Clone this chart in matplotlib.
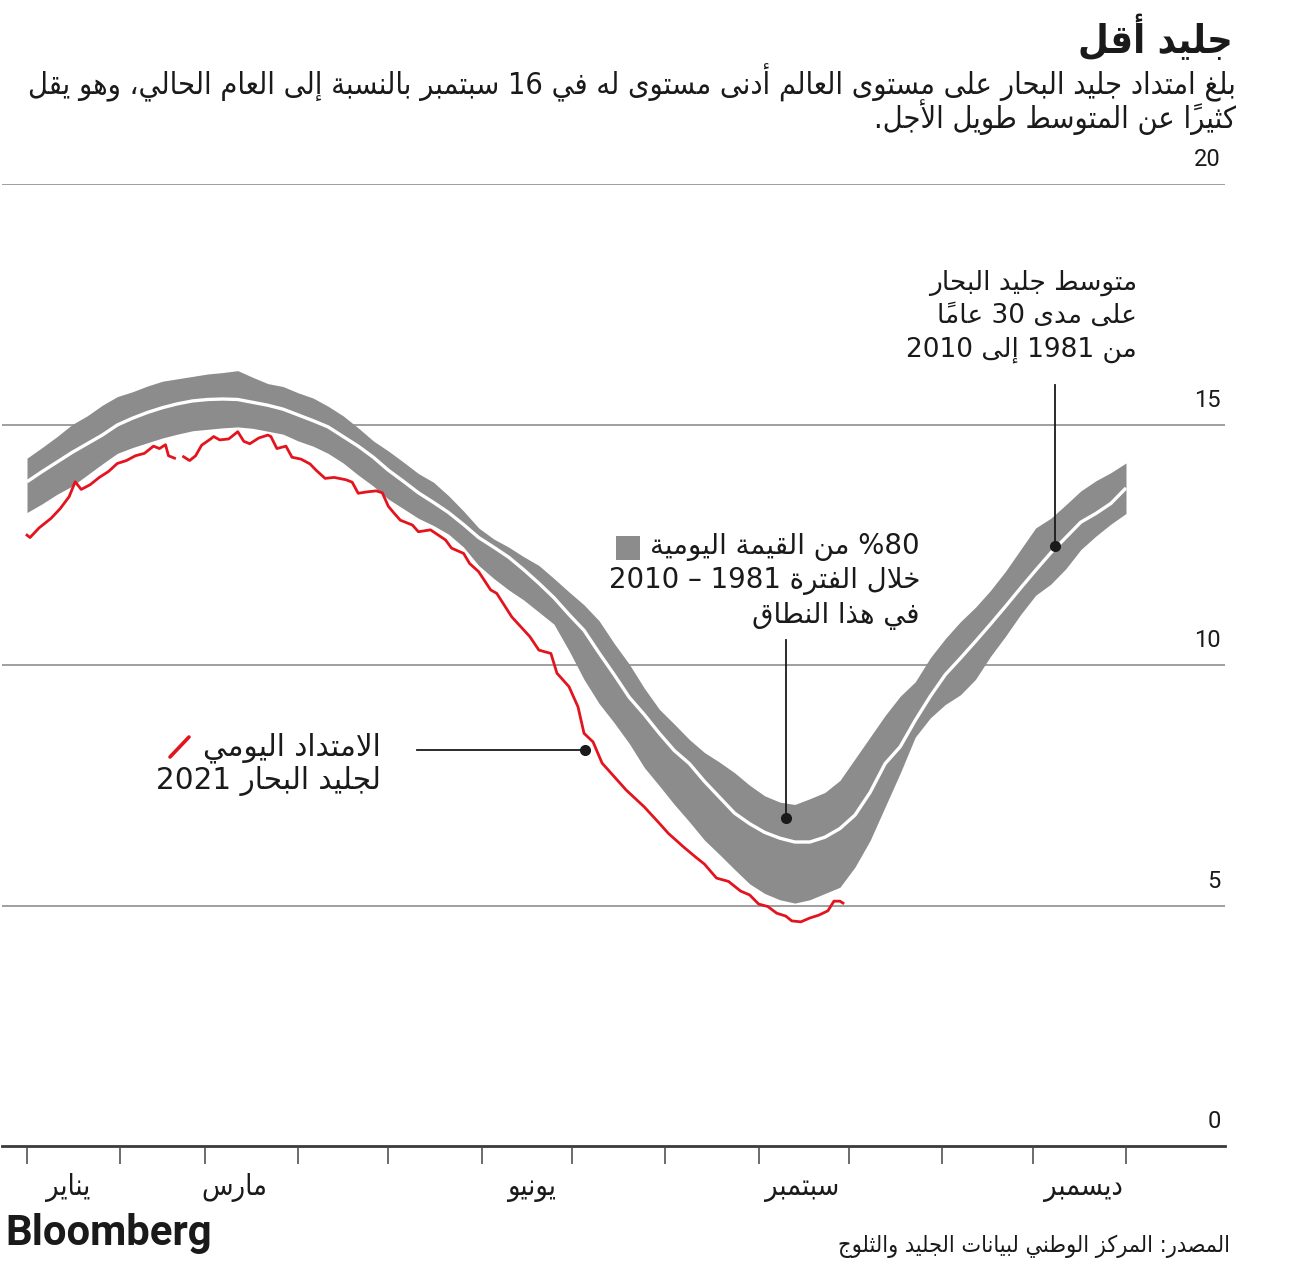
import numpy as np
import matplotlib
matplotlib.use('Agg')
import matplotlib.pyplot as plt
from matplotlib.patches import Rectangle
from matplotlib.lines import Line2D

# ---------------- data ----------------
month_starts = [0, 31, 59, 90, 120, 151, 181, 212, 243, 273, 304, 334, 365]
month_labels = ["يناير", "مارس", "يونيو", "سبتمبر", "ديسمبر"]
month_label_days = [13.6, 68.7, 167.4, 257.6, 351.0]
y_ticks = [0, 5, 10, 15, 20]

band_days = list(range(0, 366, 5))
band_upper = [14.30, 14.52, 14.75, 15.00, 15.18, 15.40, 15.58, 15.68, 15.80, 15.90,
              15.95, 16.00, 16.05, 16.08, 16.12, 15.98, 15.85, 15.79, 15.66, 15.55,
              15.38, 15.18, 14.93, 14.66, 14.45, 14.22, 13.98, 13.80, 13.52, 13.20,
              12.85, 12.62, 12.45, 12.25, 12.07, 11.80, 11.52, 11.25, 10.92, 10.45,
              10.02, 9.52, 9.08, 8.77, 8.45, 8.18, 7.98, 7.76, 7.50, 7.28,
              7.15, 7.10, 7.22, 7.35, 7.60, 8.05, 8.50, 8.95, 9.35, 9.65,
              10.15, 10.55, 10.90, 11.20, 11.55, 11.95, 12.40, 12.85, 13.05, 13.33,
              13.62, 13.83, 14.00, 14.20]
band_lower = [13.17, 13.35, 13.55, 13.72, 13.95, 14.18, 14.40, 14.52, 14.62, 14.72,
              14.80, 14.87, 14.90, 14.93, 14.95, 14.92, 14.86, 14.80, 14.66, 14.55,
              14.40, 14.20, 13.95, 13.72, 13.45, 13.25, 13.05, 12.90, 12.72, 12.45,
              12.07, 11.80, 11.56, 11.35, 11.10, 10.85, 10.30, 9.70, 9.20, 8.80,
              8.37, 7.87, 7.49, 7.10, 6.74, 6.36, 6.06, 5.75, 5.45, 5.25,
              5.12, 5.05, 5.12, 5.25, 5.38, 5.80, 6.35, 7.05, 7.75, 8.50,
              8.90, 9.18, 9.38, 9.70, 10.18, 10.60, 11.05, 11.45, 11.68, 12.00,
              12.40, 12.68, 12.93, 13.15]
mean_vals = [13.81, 14.02, 14.22, 14.42, 14.60, 14.78, 14.99, 15.13, 15.25, 15.35,
             15.43, 15.49, 15.52, 15.53, 15.52, 15.46, 15.40, 15.32, 15.20, 15.08,
             14.95, 14.75, 14.55, 14.32, 14.05, 13.82, 13.58, 13.38, 13.17, 12.92,
             12.65, 12.45, 12.24, 11.98, 11.70, 11.40, 11.05, 10.72, 10.25, 9.80,
             9.33, 8.97, 8.58, 8.22, 7.95, 7.58, 7.25, 6.92, 6.70, 6.52,
             6.40, 6.32, 6.32, 6.42, 6.60, 6.88, 7.35, 7.95, 8.30, 8.85,
             9.35, 9.80, 10.14, 10.49, 10.85, 11.22, 11.60, 11.97, 12.33, 12.65,
             12.97, 13.15, 13.36, 13.68]

red_days = [0, 1, 4, 8, 11, 14, 16, 18, 21, 24, 27, 30, 33, 36, 39, 42, 44, 46, 47, 49,
            50, 52, 54, 56, 58, 61, 62, 64, 67, 70, 72, 74, 77, 80, 81, 83, 86, 88, 91, 94,
            96, 99, 102, 106, 108, 110, 113, 116, 118, 120, 122, 124, 128, 130, 134, 139,
            141, 145, 147, 150, 154, 156, 161, 167, 170, 174, 176, 180, 183, 185, 188, 191,
            195, 199, 205, 210, 213, 218, 222, 225, 229, 233, 237, 240, 243, 246, 249, 252,
            254, 257, 260, 263, 266, 268, 270, 271]
red_vals = [12.70, 12.65, 12.85, 13.05, 13.25, 13.50, 13.81, 13.65, 13.75, 13.90, 14.02,
            14.19, 14.25, 14.35, 14.40, 14.55, 14.50, 14.58, 14.35, 14.30,
            np.nan, 14.33, 14.25, 14.35, 14.57, 14.70, 14.75, 14.68, 14.70, 14.85, 14.65,
            14.60, 14.72, 14.78, 14.75, 14.50, 14.55, 14.32, 14.28, 14.18,
            14.05, 13.88, 13.90, 13.85, 13.80, 13.57, 13.60, 13.62, 13.58, 13.30, 13.15,
            13.01, 12.91, 12.77, 12.81, 12.60,
            12.43, 12.32, 12.11, 11.94, 11.56, 11.49, 11.00, 10.59, 10.31, 10.24, 9.83,
            9.55, 9.13, 8.58, 8.40, 7.96,
            7.68, 7.40, 7.05, 6.71, 6.50, 6.22, 6.01, 5.86, 5.57, 5.50, 5.30, 5.22,
            5.03, 4.98, 4.84, 4.78,
            4.68, 4.66, 4.74, 4.80, 4.89, 5.09, 5.09, 5.05]

title = "جليد أقل"
subtitle = ["بلغ امتداد جليد البحار على مستوى العالم أدنى مستوى له في 16 سبتمبر بالنسبة إلى العام الحالي، وهو يقل",
            "كثيراً عن المتوسط طويل الأجل."]
mean_note = ["متوسط جليد البحار", "على مدى 30 عاماً", "من 1981 إلى 2010"]
band_note = ["80% من القيمة اليومية", "خلال الفترة 1981 – 2010", "في هذا النطاق"]
red_note = ["الامتداد اليومي", "لجليد البحار 2021"]
source = "المصدر: المركز الوطني لبيانات الجليد والثلوج"

# ---------------- Arabic shaping (presentation forms + visual order) ----------------
RIGHT_JOIN = set('\u0622\u0623\u0624\u0625\u0627\u0629\u062F\u0630\u0631\u0632\u0648\u0649')
FORMS = {'\u0621': [0xFE80]}
_cp = 0xFE81
for _c in list(range(0x0622, 0x063B)) + list(range(0x0641, 0x064B)):
    _n = 2 if chr(_c) in RIGHT_JOIN else 4
    FORMS[chr(_c)] = list(range(_cp, _cp + _n))
    _cp += _n
LAM_ALEF = {'\u0622': 0xFEF5, '\u0623': 0xFEF7, '\u0625': 0xFEF9, '\u0627': 0xFEFB}
MARKS = {chr(c) for c in range(0x064B, 0x0653)}


def _jt(t):
    if t[0] == 'la':
        return 'R'
    c = t[1]
    if c in FORMS and c != '\u0621':
        return 'R' if c in RIGHT_JOIN else 'D'
    return 'U'


def shape_clusters(s):
    toks = []
    i = 0
    while i < len(s):
        c = s[i]
        if c in MARKS and toks:
            toks[-1][2] += c
            i += 1
            continue
        if c == '\u0644' and i + 1 < len(s) and s[i + 1] in LAM_ALEF:
            toks.append(['la', s[i + 1], ''])
            i += 2
            continue
        toks.append(['ch', c, ''])
        i += 1
    out = []
    for k, t in enumerate(toks):
        j = _jt(t)
        jp = j in ('D', 'R') and k > 0 and _jt(toks[k - 1]) == 'D'
        jn = j == 'D' and k + 1 < len(toks) and _jt(toks[k + 1]) in ('D', 'R')
        if t[0] == 'la':
            g = chr(LAM_ALEF[t[1]] + (1 if jp else 0))
        elif j == 'U':
            g = chr(FORMS[t[1]][0]) if t[1] in FORMS else t[1]
        else:
            f = FORMS[t[1]]
            idx = 3 if (jp and jn) else 1 if jp else 2 if jn else 0
            if idx >= len(f):
                idx = 1 if jp else 0
            g = chr(f[idx])
        out.append(g + t[2])
    return out


def ar(s):
    cl = shape_clusters(s)
    parts, run = [], []
    for c in cl:
        if c.isascii() and c.isalnum():
            run.append(c)
        else:
            if run:
                parts.append(''.join(run))
                run = []
            parts.append(c)
    if run:
        parts.append(''.join(run))
    return ''.join(reversed(parts))


# ---------------- figure ----------------
W, H = 1297, 1269
fig = plt.figure(figsize=(W / 100, H / 100), dpi=100)
fig.patch.set_facecolor('white')

X0, X1 = 2, 1225
Y0, Y1 = 184, 1146
D0, D365 = 27, 1126
ppd = (D365 - D0) / 365.0
ax = fig.add_axes([X0 / W, 1 - Y1 / H, (X1 - X0) / W, (Y1 - Y0) / H])
ax.set_xlim((X0 - D0) / ppd, (X1 - D0) / ppd)
ax.set_ylim(0, 20)
for s in ax.spines.values():
    s.set_visible(False)
ax.set_yticks([])
ax.set_xticks(month_starts)
ax.set_xticklabels([])
ax.tick_params(axis='x', length=13, width=1.1, color='#444444', direction='out')
ax.set_facecolor('none')

for v in y_ticks[1:]:
    ax.axhline(v, color='#858585', lw=1.1, zorder=1)
ax.axhline(0, color='#3a3a3a', lw=2.0, zorder=1, clip_on=False)

ax.fill_between(band_days, band_lower, band_upper, color='#8c8c8c', lw=0, zorder=2)
ax.plot(band_days, mean_vals, color='white', lw=2.4, zorder=3, solid_capstyle='butt')
ax.plot(red_days, red_vals, color='#e3141e', lw=2.0, zorder=4, solid_joinstyle='round')


def dx(px):
    return (px - D0) / ppd


def dy(py):
    return (Y1 - py) / ((Y1 - Y0) / 20.0)


INK = '#1a1a1a'
AR = ['DejaVu Sans']

# y tick labels
for v in y_ticks:
    ax.text(dx(1221), v + 0.5, str(v), ha='right', va='center', fontsize=17,
            color=INK, family=['Roboto', 'DejaVu Sans'])

# month labels
mtexts = []
for lab, d in zip(month_labels, month_label_days):
    mtexts.append(fig.text((D0 + d * ppd) / W, 1 - 1188 / H, ar(lab), ha='center', va='center',
                           fontsize=16, color=INK, family=AR, fontstretch='condensed'))

# leader lines and dots
ax.plot([dx(1055), dx(1055)], [dy(385), dy(546)], color=INK, lw=1.3, zorder=5)
ax.plot([dx(1055)], [dy(546)], 'o', color=INK, ms=7, zorder=6)
ax.plot([dx(786), dx(786)], [dy(640), dy(818)], color=INK, lw=1.3, zorder=5)
ax.plot([dx(786)], [dy(818)], 'o', color=INK, ms=7, zorder=6)
ax.plot([dx(417), dx(585)], [dy(750), dy(750)], color=INK, lw=1.3, zorder=5)
ax.plot([dx(585)], [dy(750)], 'o', color=INK, ms=7, zorder=6)

# legend swatch and red slash
fig.patches.append(Rectangle((616 / W, 1 - 560 / H), 24 / W, 24 / H, transform=fig.transFigure,
                             facecolor='#8c8c8c', edgecolor='none'))
fig.lines.append(Line2D([170 / W, 189 / W], [1 - 757 / H, 1 - 737 / H], transform=fig.transFigure,
                        color='#e3141e', lw=2.6, solid_capstyle='round'))


def block(lines, xr, ys, fs, **kw):
    return [fig.text(xr / W, 1 - y / H, ar(l), ha='right', va='center', fontsize=fs,
                     color=INK, family=AR, **kw) for l, y in zip(lines, ys)]


t_title = block([title], 1233, [38], 30, fontweight='bold', fontstretch='condensed')
t_sub = block(subtitle, 1236, [83, 117], 17, fontstretch='condensed')
t_mean = block(mean_note, 1137, [283, 316, 350], 17)
t_band = block(band_note, 920, [547, 581, 616], 17)
t_red = block(red_note, 381, [748, 781], 17)
t_src = block([source], 1230, [1246], 13, fontstretch='condensed')
t_bb = [fig.text(5 / W, 1 - 1233 / H, 'Bloomberg', ha='left', va='center', fontsize=26,
                 fontweight='bold', color=INK, family=['Roboto', 'DejaVu Sans'])]

fig.canvas.draw()
r = fig.canvas.get_renderer()


def fit(texts, target, idx=0):
    w = texts[idx].get_window_extent(r).width
    k = target / w
    for t in texts:
        t.set_fontsize(t.get_fontsize() * k)


fit(t_title, 155)
fit(t_sub, 1203)
fit(t_mean, 208)
fit(t_band, 270)
fit(t_red, 178)
fit(t_src, 392)
fit(t_bb, 207)
fit(mtexts, 75, idx=3)

fig.savefig('out.png', dpi=100, facecolor='white')
